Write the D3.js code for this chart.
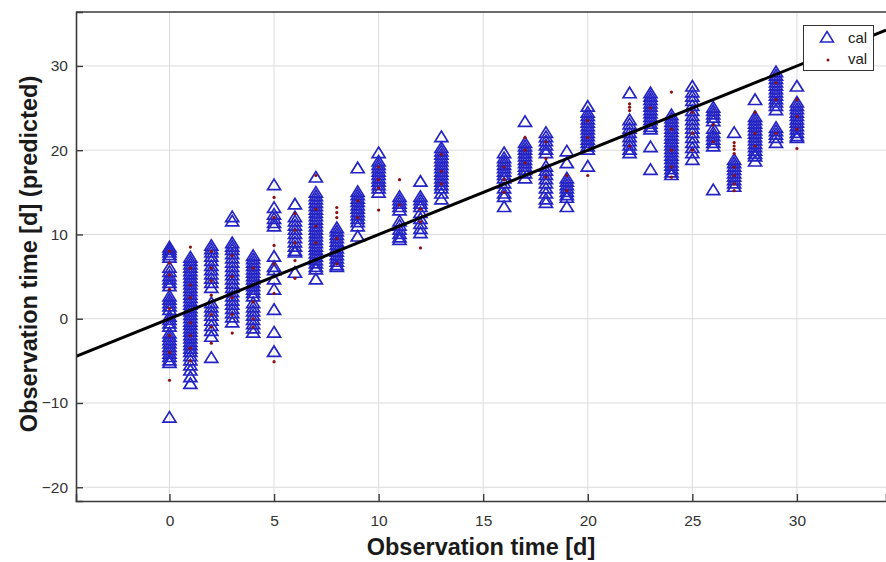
<!DOCTYPE html>
<html><head><meta charset="utf-8">
<script src="https://cdn.jsdelivr.net/npm/d3@7"></script>
<style>body{margin:0;background:#fff}svg{display:block}text{font-family:"Liberation Sans",Arial,sans-serif}</style>
</head><body>
<svg id="c" width="886" height="562"></svg>
<script>
const days = [0,1,2,3,4,5,6,7,8,9,10,11,12,13,16,17,18,19,20,22,23,24,25,26,27,28,29,30];
const calValues = [
 [8.4,8.1,7.8,7.5,7.2,6.0,5.5,5.0,4.6,4.2,3.8,2.6,2.2,1.8,1.4,1.0,0.2,-0.2,-0.6,-1.0,-1.8,-2.2,-2.6,-3.0,-3.4,-3.8,-4.2,-4.6,-5.0,-5.3,-11.8],
 [7.2,6.8,6.4,6.0,5.6,5.2,4.8,4.4,4.0,3.6,3.2,2.8,2.4,2.0,1.6,1.2,0.8,0.4,0.0,-0.4,-0.8,-1.2,-1.6,-2.0,-2.4,-2.8,-3.2,-3.6,-4.0,-4.5,-5.0,-5.6,-6.2,-7.0,-7.8],
 [8.6,8.2,7.8,7.3,6.8,6.2,5.7,5.2,4.7,4.2,3.6,1.8,1.3,0.8,0.3,-0.3,-0.9,-1.5,-2.2,-4.7],
 [12.0,11.5,8.9,8.5,8.1,7.6,7.1,6.6,6.1,5.6,5.1,4.6,4.1,3.6,3.1,2.6,2.1,1.6,1.1,0.6,0.1,-0.5],
 [7.4,7.0,6.6,6.2,5.8,5.4,5.0,4.6,4.2,3.8,3.4,3.0,2.6,1.8,1.3,0.8,0.3,-0.2,-0.7,-1.2,-1.7],
 [15.8,13.1,12.3,11.8,11.3,10.9,7.3,6.1,5.7,4.6,3.4,1.0,-1.7,-4.0],
 [13.5,12.0,11.5,11.0,10.5,10.0,9.5,9.0,8.5,8.0,7.8,5.4],
 [16.7,14.9,14.5,14.1,13.7,13.3,12.9,12.5,12.1,11.7,11.3,10.9,10.5,10.1,9.7,9.3,8.9,8.5,8.1,7.7,7.3,6.9,6.5,6.1,5.8,4.6],
 [10.7,10.3,9.9,9.5,9.1,8.7,8.3,7.9,7.5,7.1,6.7,6.3,6.1],
 [17.8,15.0,14.6,14.2,13.8,13.4,13.0,12.6,12.2,11.8,11.4,10.9,9.7],
 [19.6,18.6,18.2,17.8,17.4,17.0,16.6,16.2,15.8,15.4,14.9],
 [14.4,14.0,13.6,13.2,12.8,11.5,11.0,10.5,10.0,9.6,9.3],
 [16.2,14.4,14.0,13.6,13.2,12.5,11.8,11.2,10.6,10.1],
 [21.5,20.2,19.8,19.4,19.0,18.6,18.2,17.8,17.4,17.0,16.6,16.2,15.8,15.4,14.8,14.1],
 [19.6,19.0,18.6,18.2,17.8,17.4,17.0,16.6,16.0,15.4,14.8,14.4,13.2],
 [23.3,20.8,20.4,20.0,19.6,19.2,18.8,18.4,18.0,17.6,17.2,16.6],
 [22.0,21.5,21.0,20.5,20.0,19.6,18.0,17.5,17.0,16.5,16.0,15.4,14.8,14.1,13.7],
 [19.8,18.4,16.6,16.2,15.8,15.4,15.0,14.6,14.3,13.2],
 [25.1,24.4,24.0,23.6,23.2,22.8,22.4,22.0,21.6,21.2,20.8,20.4,20.0,18.0],
 [26.7,23.5,23.0,22.5,22.0,21.5,21.0,20.5,20.0,19.6],
 [26.7,26.3,25.9,25.5,25.1,24.7,24.3,23.9,23.5,23.1,22.7,22.4,20.3,17.6],
 [24.1,23.7,23.3,22.9,22.5,22.1,21.7,21.3,20.9,20.5,20.1,19.7,19.3,18.9,18.5,18.1,17.7,17.3,17.0],
 [27.5,26.8,26.3,25.8,25.2,24.6,24.0,23.5,23.0,22.5,22.0,21.4,20.8,20.2,19.6,18.8],
 [25.0,24.6,24.2,23.8,23.4,22.5,22.0,21.6,21.2,20.8,20.4,15.2],
 [22.0,18.8,18.4,18.0,17.6,17.2,16.8,16.4,16.0,15.6],
 [25.9,23.9,23.5,23.1,22.7,22.3,21.9,21.5,21.1,20.7,20.3,19.9,19.5,19.2,18.6],
 [29.2,28.8,28.4,28.0,27.6,27.2,26.8,26.4,26.0,25.6,25.2,24.7,22.6,22.2,21.8,21.4,20.8],
 [27.5,25.6,25.2,24.8,24.4,24.0,23.6,23.2,22.8,22.4,22.0,21.6,21.4]
];
const valValues = [
 [8.0,6.6,5.2,3.5,1.2,0.0,-2.0,-4.0,-7.3],
 [8.5,6.0,4.0,2.5,1.0,-0.5,-2.0,-3.5,-5.0],
 [8.0,6.0,4.5,2.8,0.5,-1.0,-2.9],
 [7.5,5.0,2.5,0.5,-1.7],
 [6.0,4.0,2.0,0.0,-1.0],
 [14.4,12.0,8.7,6.5,3.0,-5.1],
 [12.5,10.5,9.0,6.9,4.8],
 [17.0,13.0,11.0,9.0,7.0],
 [13.2,12.6,12.0,9.5,8.0,6.5],
 [14.0,12.0],
 [18.0,16.5,15.5,12.9],
 [16.5,13.5,11.0],
 [13.0,11.5,8.4],
 [19.5,17.5,16.0],
 [18.0,16.5,15.0],
 [21.5,20.0,18.5],
 [21.0,19.0,16.8],
 [17.0,15.2],
 [23.5,21.5,17.0],
 [25.5,25.1,24.7,22.0,20.5],
 [25.0,23.0],
 [26.9,22.5,20.0,18.0,16.8],
 [24.5,22.0,20.0],
 [23.0,21.0],
 [20.9,20.5,20.1,19.6,18.0,17.0,16.0,15.2],
 [24.5,22.0,20.5],
 [28.0,26.0,22.0],
 [26.0,24.0,22.5,20.2]
];
const xTicks = [0,5,10,15,20,25,30];
const yTicks = [-20,-10,0,10,20,30];
const xDomain = [-4.47, 34.26];
const yDomain = [-21.63, 36.4];
const fitLine = [[-4.47,-4.47],[34.26,34.26]];
const legendLabels = ["cal","val"];
const xLabel = "Observation time [d]";
const yLabel = "Observation time [d] (predicted)";

const svg = d3.select("#c");
const L=76, T=12, R=886, B=501;
const x = d3.scaleLinear().domain(xDomain).range([L,R]);
const y = d3.scaleLinear().domain(yDomain).range([B,T]);
const axisCol = "#3a3a3a";
const triCol = "#2424c4";
const dotCol = "#8b1010";

svg.append("defs").append("clipPath").attr("id","pc")
  .append("rect").attr("x",L).attr("y",T).attr("width",R-L).attr("height",B-T);

// grid
svg.append("g").selectAll("line").data(xTicks).join("line")
  .attr("x1",d=>x(d)).attr("x2",d=>x(d)).attr("y1",T).attr("y2",B)
  .attr("stroke","#dcdcdc").attr("stroke-width",1);
svg.append("g").selectAll("line").data(yTicks).join("line")
  .attr("y1",d=>y(d)).attr("y2",d=>y(d)).attr("x1",L).attr("x2",R)
  .attr("stroke","#dcdcdc").attr("stroke-width",1);

// points
const cal=[], val=[];
days.forEach((d,i)=>{calValues[i].forEach(v=>cal.push([d,v])); valValues[i].forEach(v=>val.push([d,v]));});
const tri = "M0,-6.5L6.5,4L-6.5,4Z";
const plot = svg.append("g").attr("clip-path","url(#pc)");
plot.append("g").selectAll("path").data(cal).join("path")
  .attr("d",tri).attr("transform",d=>`translate(${x(d[0])},${y(d[1])})`)
  .attr("fill","none").attr("stroke",triCol).attr("stroke-width",1.7);
plot.append("g").selectAll("circle").data(val).join("circle")
  .attr("cx",d=>x(d[0])).attr("cy",d=>y(d[1])).attr("r",1.6).attr("fill",dotCol);

// fit line
plot.append("path").datum(fitLine)
  .attr("d",d3.line().x(d=>x(d[0])).y(d=>y(d[1])))
  .attr("stroke","#000").attr("stroke-width",3).attr("fill","none");

// axes
const xa = svg.append("g").attr("transform",`translate(0,${B})`)
  .call(d3.axisBottom(x).tickValues(xTicks).tickSize(-7).tickPadding(14));
const ya = svg.append("g").attr("transform",`translate(${L},0)`)
  .call(d3.axisLeft(y).tickValues(yTicks).tickSize(-7).tickPadding(8));
[xa,ya].forEach(a=>{
  a.select(".domain").attr("stroke",axisCol).attr("stroke-width",1.6);
  a.selectAll(".tick line").attr("stroke",axisCol).attr("stroke-width",1.4);
  a.selectAll(".tick text").attr("fill","#333").attr("font-size",15.5).attr("font-family","Liberation Sans, Arial, sans-serif");
});
// top border
svg.append("line").attr("x1",L).attr("x2",R).attr("y1",T).attr("y2",T)
  .attr("stroke",axisCol).attr("stroke-width",1.6);

// labels
svg.append("text").attr("x",481).attr("y",555).attr("text-anchor","middle")
  .attr("font-size",23.5).attr("font-weight","bold").attr("fill","#1a1a1a").text(xLabel);
svg.append("text").attr("transform","translate(37,254) rotate(-90)").attr("text-anchor","middle")
  .attr("font-size",23.5).attr("font-weight","bold").attr("fill","#1a1a1a").text(yLabel);

// legend
const lg = svg.append("g");
lg.append("rect").attr("x",803.5).attr("y",25.5).attr("width",70).attr("height",45)
  .attr("fill","#fff").attr("stroke","#333").attr("stroke-width",1);
lg.append("path").attr("d",tri).attr("transform","translate(827,38)")
  .attr("fill","none").attr("stroke",triCol).attr("stroke-width",1.5);
lg.append("circle").attr("cx",828).attr("cy",60).attr("r",1.5).attr("fill",dotCol);
lg.selectAll("text.l").data(legendLabels).join("text").attr("class","l")
  .attr("x",848).attr("y",(d,i)=>43+i*21).attr("font-size",15).attr("fill","#222").text(d=>d);
</script>
</body></html>
